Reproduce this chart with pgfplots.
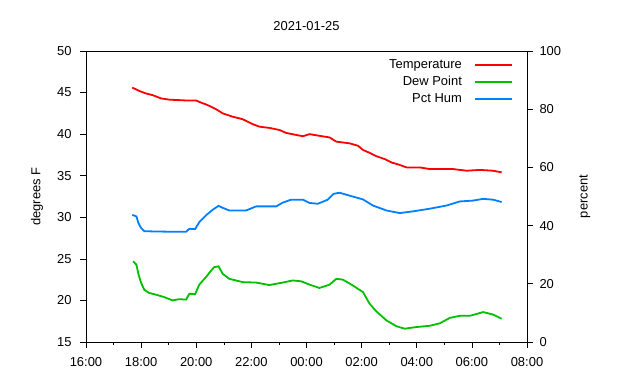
\documentclass[border=0pt]{standalone}
\usepackage{pgfplots}
\pgfplotsset{compat=1.18}
\usepackage{fontspec}
\setmainfont{Liberation Sans}
\definecolor{gpred}{RGB}{255,0,0}
\definecolor{gpgreen}{RGB}{0,192,0}
\definecolor{gpblue}{RGB}{0,128,255}
\begin{document}
\begin{tikzpicture}[font=\fontsize{13}{15}\selectfont]
\useasboundingbox (-86bp,-38bp) rectangle (554bp,342bp);
\pgfplotsset{
  common/.style={
    scale only axis, width=441bp, height=291bp,
    at={(0,0)}, anchor=south west,
    xmin=16, xmax=32,
    tick align=outside,
    major tick length=6bp, minor tick length=3bp,
    tick style={black, line width=0.6bp},
    axis line style={line width=0.6bp},
    /pgf/number format/assume math mode=true,
    tick label style={font=\fontsize{13}{15}\selectfont},
    label style={font=\fontsize{13}{15}\selectfont},
  }
}
\begin{axis}[common,
  ymin=15, ymax=50,
  ytick={15,20,...,50},
  xtick={16,18,...,32},
  xticklabels={16:00,18:00,20:00,22:00,00:00,02:00,04:00,06:00,08:00},
  minor x tick num=1,
  xtick pos=bottom, ytick pos=left,
  xticklabel style={yshift=-6bp},
  yticklabel style={xshift=-5bp},
  title={2021-01-25},
  title style={at={(0.5,1)}, anchor=center, yshift=19bp, font=\fontsize{13}{15}\selectfont},
  ylabel={degrees F},
  ylabel style={at={(axis description cs:-0.111,0.5)}, anchor=center, rotate=0},
  legend cell align=right,
  legend style={draw=none, fill=none, at={(0.968,0.979)}, anchor=north east,
    legend plot pos=right, inner sep=0pt, row sep=2bp,
    /tikz/every odd column/.append style={column sep=11bp},
    nodes={inner sep=1bp, text height=10bp, text depth=3bp},
    font=\fontsize{13}{15}\selectfont},
  legend image code/.code={\draw[#1, line width=1.8bp] (0bp,0bp) -- (37bp,0bp);},
]
\addplot[gpred, line width=1.8bp] coordinates {
(17.68,45.6) (17.93,45.2) (18.17,44.9) (18.41,44.7) (18.72,44.3) (19.02,44.15)
(19.63,44.05) (19.99,44.05) (20.17,43.8) (20.41,43.5) (20.72,43.0) (20.96,42.5)
(21.32,42.1) (21.68,41.8) (22.05,41.2) (22.29,40.9) (22.65,40.75) (23.02,40.5)
(23.26,40.15) (23.63,39.9) (23.87,39.75) (24.11,40.0) (24.47,39.8) (24.84,39.6)
(25.08,39.1) (25.56,38.9) (25.87,38.6) (26.05,38.1) (26.29,37.75) (26.53,37.35)
(26.84,37.0) (27.08,36.6) (27.38,36.3) (27.63,36.0) (28.11,36.0) (28.47,35.8)
(29.32,35.8) (29.81,35.6) (30.29,35.7) (30.77,35.6) (31.08,35.4)
};
\addlegendentry{Temperature}
\addplot[gpgreen, line width=1.8bp] coordinates {
(17.71,24.7) (17.83,24.3) (17.90,23.2) (17.99,22.2) (18.11,21.3) (18.29,20.9)
(18.53,20.7) (18.84,20.4) (19.14,20.0) (19.38,20.15) (19.63,20.1) (19.75,20.8)
(19.96,20.75) (20.11,21.9) (20.35,22.8) (20.53,23.55) (20.65,24.0) (20.81,24.1)
(20.96,23.2) (21.20,22.6) (21.69,22.2) (22.17,22.15) (22.65,21.85) (23.14,22.15)
(23.50,22.4) (23.81,22.3) (24.11,21.9) (24.47,21.5) (24.84,21.9) (25.08,22.6)
(25.32,22.5) (25.68,21.8) (26.05,21.0) (26.29,19.6) (26.53,18.7) (26.90,17.6)
(27.26,16.9) (27.56,16.6) (27.99,16.8) (28.47,16.95) (28.84,17.25) (29.20,17.9)
(29.56,18.15) (29.93,18.15) (30.41,18.6) (30.77,18.3) (31.08,17.8)
};
\addlegendentry{Dew Point}
\addlegendimage{gpblue, line width=1.8bp}
\addlegendentry{Pct Hum}
\end{axis}
\begin{axis}[common,
  ymin=0, ymax=100,
  ytick={0,20,...,100},
  axis y line*=right,
  axis x line=none,
  yticklabel style={xshift=3bp},
  ylabel={percent},
  ylabel style={at={(axis description cs:1.131,0.5)}, anchor=center, rotate=0},
]
\addplot[gpblue, line width=1.8bp] coordinates {
(17.68,43.7) (17.83,43.15) (17.90,40.9) (17.99,39.3) (18.11,38.1) (18.41,38.0)
(19.02,37.9) (19.63,37.9) (19.75,38.9) (19.96,38.8) (20.11,41.2) (20.35,43.5)
(20.59,45.4) (20.81,46.8) (20.96,46.1) (21.20,45.2) (21.81,45.2) (22.17,46.6)
(22.90,46.6) (23.14,47.9) (23.44,48.9) (23.87,48.9) (24.11,47.8) (24.41,47.5)
(24.77,48.9) (24.98,50.9) (25.20,51.3) (25.56,50.3) (26.05,49.0) (26.41,46.9)
(26.90,45.2) (27.38,44.3) (27.87,44.9) (28.47,45.8) (29.08,46.9) (29.56,48.3)
(30.05,48.6) (30.41,49.2) (30.77,48.9) (31.08,48.1)
};
\end{axis}
\end{tikzpicture}
\end{document}
